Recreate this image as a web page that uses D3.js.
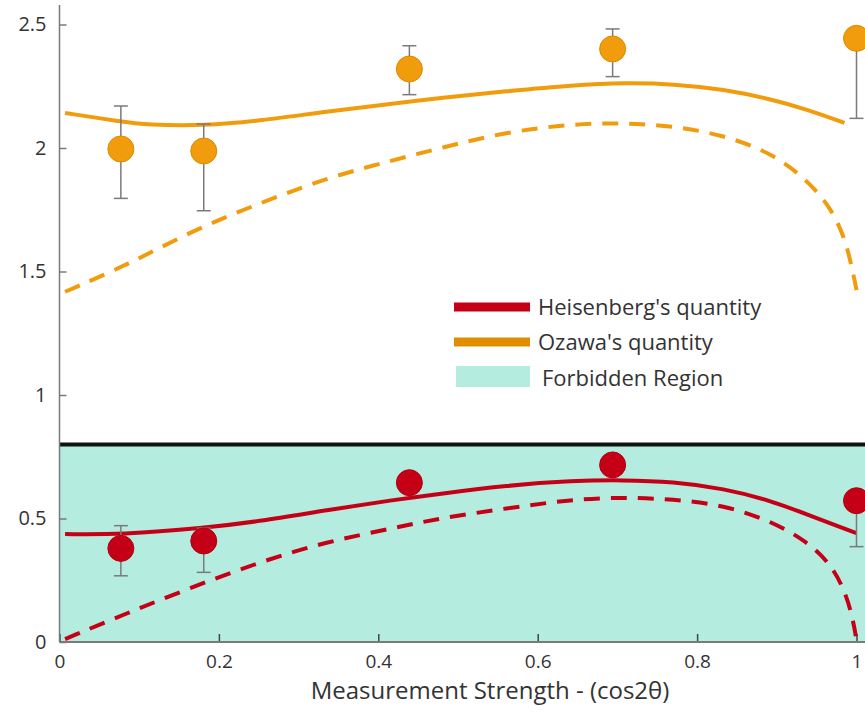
<!DOCTYPE html>
<html>
<head>
<meta charset="utf-8">
<script src="https://cdn.jsdelivr.net/npm/d3@7"></script>
<style>
    body { margin: 0; background: #fff; }
    text { font-family: "Open Sans", "Noto Sans", sans-serif; fill: #333; }
</style>
</head>
<body>
<div id="chart"></div>
<script>
const width = 865
const height = 715

// measured points (same x for both quantities)
const measX = [0.077, 0.181, 0.439, 0.694, 1.0]
const ozawaMeas = [1.996, 1.988, 2.320, 2.401, 2.444]
const ozawaLo = [1.796, 1.746, 2.216, 2.289, 2.120]
const ozawaHi = [2.170, 2.097, 2.414, 2.482, 2.460]
const heisMeas = [0.379, 0.409, 0.645, 0.717, 0.572]
const heisLo = [0.268, 0.282, 0.615, 0.685, 0.386]
const heisHi = [0.471, 0.461, 0.675, 0.745, 0.600]

// theory curves
const ozawaTheoryX = [0.007, 0.077, 0.11, 0.181, 0.252, 0.335, 0.419, 0.477, 0.561, 0.644, 0.712, 0.770, 0.833, 0.895, 0.938, 0.985]
const ozawaTheoryY = [2.142, 2.107, 2.094, 2.090, 2.110, 2.148, 2.180, 2.203, 2.230, 2.255, 2.264, 2.259, 2.238, 2.196, 2.156, 2.102]
const ozawaBoundX = [0.007, 0.085, 0.168, 0.252, 0.335, 0.419, 0.477, 0.561, 0.644, 0.707, 0.770, 0.833, 0.895, 0.938, 0.967, 0.985, 0.995, 1.0]
const ozawaBoundY = [1.418, 1.526, 1.668, 1.777, 1.879, 1.951, 1.999, 2.066, 2.097, 2.102, 2.089, 2.053, 1.978, 1.870, 1.762, 1.641, 1.506, 1.425]
const heisTheoryX = [0.007, 0.077, 0.181, 0.252, 0.335, 0.419, 0.477, 0.561, 0.644, 0.707, 0.770, 0.833, 0.895, 0.938, 0.979, 1.0]
const heisTheoryY = [0.437, 0.435, 0.461, 0.489, 0.534, 0.575, 0.600, 0.634, 0.653, 0.656, 0.649, 0.622, 0.570, 0.516, 0.466, 0.441]
const heisBoundX = [0.007, 0.085, 0.168, 0.252, 0.335, 0.419, 0.477, 0.561, 0.644, 0.707, 0.770, 0.833, 0.895, 0.938, 0.967, 0.985, 0.995, 1.0]
const heisBoundY = [0.012, 0.117, 0.224, 0.325, 0.406, 0.461, 0.501, 0.541, 0.578, 0.586, 0.578, 0.555, 0.487, 0.406, 0.319, 0.211, 0.102, 0.008]

const forbiddenTop = 0.8
const xTicks = [0, 0.2, 0.4, 0.6, 0.8, 1]
const yTicks = [0, 0.5, 1, 1.5, 2, 2.5]
const legendItems = ["Heisenberg's quantity", "Ozawa's quantity", "Forbidden Region"]

const orange = "#f09c0c"
const red = "#c50016"
const teal = "#b5ece0"
const grey = "#7a7a7a"

const x = d3.scaleLinear().domain([0, 1]).range([59.5, 856.5])
const y = d3.scaleLinear().domain([0, 2.5]).range([642, 24.5])

const svg = d3.select("#chart")
    .append("svg")
    .attr("width", width)
    .attr("height", height)

// forbidden region
svg.append("rect")
    .attr("x", x(0))
    .attr("y", y(forbiddenTop))
    .attr("width", width - x(0))
    .attr("height", y(0) - y(forbiddenTop))
    .style("fill", teal)

svg.append("line")
    .attr("x1", x(0)).attr("x2", width)
    .attr("y1", y(forbiddenTop)).attr("y2", y(forbiddenTop))
    .style("stroke", "#111")
    .style("stroke-width", 4)

// axes
const yAxis = svg.append("g")
    .attr("transform", `translate(${x(0)},0)`)
    .call(d3.axisLeft(y).tickValues(yTicks).tickFormat(d3.format("")).tickSize(-7).tickPadding(13))
yAxis.select(".domain").remove()
yAxis.selectAll("line").style("stroke", grey).style("stroke-width", 1.5)
yAxis.selectAll("text").style("font-size", "20px").style("fill", "#333")

const xAxis = svg.append("g")
    .attr("transform", `translate(0,${y(0)})`)
    .call(d3.axisBottom(x).tickValues(xTicks).tickFormat(d3.format("")).tickSize(-8).tickPadding(13))
xAxis.select(".domain").remove()
xAxis.selectAll("line").style("stroke", "#444").style("stroke-width", 1.5)
xAxis.selectAll("text").style("font-size", "19px").style("fill", "#333")

svg.append("line")
    .attr("x1", x(0)).attr("x2", x(0))
    .attr("y1", 5).attr("y2", y(0))
    .style("stroke", grey).style("stroke-width", 1.5)
svg.append("line")
    .attr("x1", x(0)).attr("x2", width)
    .attr("y1", y(0)).attr("y2", y(0))
    .style("stroke", grey).style("stroke-width", 2)

svg.append("text")
    .attr("x", 490)
    .attr("y", 699)
    .attr("text-anchor", "middle")
    .style("font-size", "24px")
    .text("Measurement Strength - (cos2θ)")

// curves
const line = d3.line()
    .x(d => x(d[0]))
    .y(d => y(d[1]))
    .curve(d3.curveBasis)

function drawCurve(xs, ys, color, dashed){
    svg.append("path")
        .datum(d3.zip(xs, ys))
        .attr("d", line)
        .style("fill", "none")
        .style("stroke", color)
        .style("stroke-width", 4)
        .style("stroke-dasharray", dashed ? "16,11" : null)
}

drawCurve(ozawaTheoryX, ozawaTheoryY, orange, false)
drawCurve(ozawaBoundX, ozawaBoundY, orange, true)
drawCurve(heisTheoryX, heisTheoryY, red, false)
drawCurve(heisBoundX, heisBoundY, red, true)

// measured points with error bars
function drawPoints(vals, lo, hi, color, edge){
    const g = svg.append("g")
    const pts = d3.range(measX.length).map(i => ({x: measX[i], v: vals[i], lo: lo[i], hi: hi[i]}))

    const bars = g.selectAll(".err")
        .data(pts)
        .join("g")
        .style("stroke", grey)
        .style("stroke-width", 1.5)
    bars.append("line")
        .attr("x1", d => x(d.x)).attr("x2", d => x(d.x))
        .attr("y1", d => y(d.lo)).attr("y2", d => y(d.hi))
    bars.append("line")
        .attr("x1", d => x(d.x) - 7).attr("x2", d => x(d.x) + 7)
        .attr("y1", d => y(d.lo)).attr("y2", d => y(d.lo))
    bars.append("line")
        .attr("x1", d => x(d.x) - 7).attr("x2", d => x(d.x) + 7)
        .attr("y1", d => y(d.hi)).attr("y2", d => y(d.hi))

    g.selectAll("circle")
        .data(pts)
        .join("circle")
        .attr("cx", d => x(d.x))
        .attr("cy", d => y(d.v))
        .attr("r", 13)
        .style("fill", color)
        .style("stroke", edge)
        .style("stroke-width", 1)
}

drawPoints(ozawaMeas, ozawaLo, ozawaHi, orange, "#dc8a00")
drawPoints(heisMeas, heisLo, heisHi, red, "#b00012")

// legend
const legend = svg.append("g").attr("transform", "translate(454,307)")
const legendColors = [red, "#e08e00", teal]

legend.selectAll("rect")
    .data(legendItems)
    .join("rect")
    .attr("x", (d, i) => i === 2 ? 2 : 0)
    .attr("y", (d, i) => i === 2 ? 59 : i * 35 - 4.5)
    .attr("width", (d, i) => i === 2 ? 74 : 76)
    .attr("height", (d, i) => i === 2 ? 21 : 9)
    .style("fill", (d, i) => legendColors[i])

legend.selectAll("text")
    .data(legendItems)
    .join("text")
    .attr("x", (d, i) => i === 2 ? 88 : 84)
    .attr("y", (d, i) => i * 35.5)
    .attr("dy", "0.35em")
    .style("font-size", "22px")
    .text(d => d)
</script>
</body>
</html>
